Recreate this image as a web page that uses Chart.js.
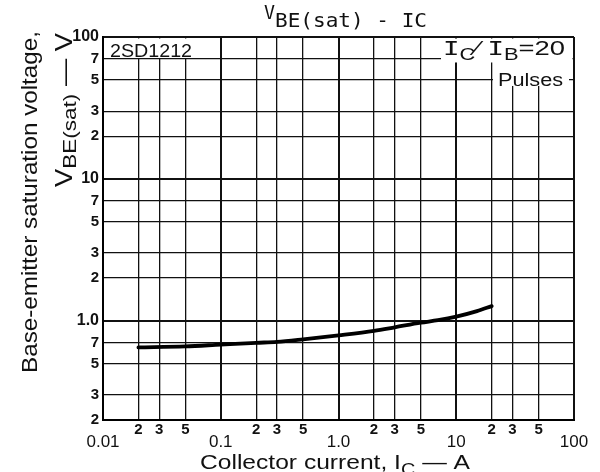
<!DOCTYPE html>
<html>
<head>
<meta charset="utf-8">
<script src="https://cdn.jsdelivr.net/npm/chart.js@4.4.1/dist/chart.umd.min.js"></script>
<style>
  html, body { margin: 0; padding: 0; background: #fff; }
  #wrap { width: 600px; height: 472px; }
</style>
</head>
<body>
<div id="wrap"><canvas id="vbeChart"></canvas></div>
<script>
// values
const collectorCurrent = [0.02, 0.05, 0.1, 0.2, 0.3, 0.5, 1, 2, 3, 5, 7, 10, 15, 20];
const vbeSat = [0.65, 0.66, 0.68, 0.70, 0.71, 0.74, 0.79, 0.85, 0.90, 0.97, 1.01, 1.07, 1.17, 1.27];

// grid / tick positions and their labels
const xTickValues = [0.01, 0.02, 0.03, 0.05, 0.1, 0.2, 0.3, 0.5, 1, 2, 3, 5, 10, 20, 30, 50, 100];
const xTickText = ['0.01', '2', '3', '5', '0.1', '2', '3', '5', '1.0', '2', '3', '5', '10', '2', '3', '5', '100'];
const yTickValues = [0.2, 0.3, 0.5, 0.7, 1, 2, 3, 5, 7, 10, 20, 30, 50, 70, 100];
const yTickText = ['2', '3', '5', '7', '1.0', '2', '3', '5', '7', '10', '2', '3', '5', '7', '100'];

const SANS = '"Liberation Sans", Arial, sans-serif';
const MONO = '"DejaVu Sans Mono", monospace';

function isDecade(v) {
    const l = Math.log10(v);
    return Math.abs(l - Math.round(l)) < 1e-6;
}

// draws a list of text pieces [{t, font, dy}] left to right, scaled to width if given
function drawParts(ctx, parts, x, y, targetWidth) {
    let w = 0;
    parts.forEach(p => { ctx.font = p.font; w += ctx.measureText(p.t).width; });
    const s = targetWidth ? targetWidth / w : 1;
    ctx.save();
    ctx.translate(x, y);
    ctx.scale(s, 1);
    let cx = 0;
    parts.forEach(p => {
        ctx.font = p.font;
        ctx.fillText(p.t, cx, p.dy || 0);
        cx += ctx.measureText(p.t).width;
    });
    ctx.restore();
}

const overlayPlugin = {
    id: 'overlay',
    beforeDatasetsDraw(chart) {
        const ctx = chart.ctx;
        const a = chart.chartArea;
        const ys = chart.scales.y;
        const y70 = ys.getPixelForValue(70);
        const y50 = ys.getPixelForValue(50);
        ctx.save();
        ctx.fillStyle = '#fff';
        // white patches behind the annotations
        ctx.fillRect(a.left + 1.5, a.top + 1.5, 90, y70 - a.top - 2.5);
        ctx.fillRect(441, a.top + 1.5, a.right - 441 - 1.5, y70 - a.top + 2);
        ctx.fillRect(493, y70 - 1, a.right - 493 - 5, 28);
        ctx.fillStyle = '#111';
        ctx.textBaseline = 'alphabetic';
        drawParts(ctx, [{ t: '2SD1212', font: '18px ' + SANS }], 110, y70 - 2, 82);
        drawParts(ctx, [
            { t: 'I', font: '20px ' + MONO },
            { t: 'C', font: '16px ' + SANS, dy: 5 },
            { t: '\u2044 ', font: '20px ' + SANS },
            { t: 'I', font: '20px ' + MONO },
            { t: 'B', font: '16px ' + SANS, dy: 5 },
            { t: '=20', font: '20px ' + SANS }
        ], 443, 55, 122);
        drawParts(ctx, [{ t: 'Pulses', font: '18px ' + SANS }], 498, y50 + 6, 65);
        ctx.restore();
    },
    afterDraw(chart) {
        const ctx = chart.ctx;
        ctx.save();
        ctx.fillStyle = '#111';
        ctx.textBaseline = 'alphabetic';
        // chart title
        drawParts(ctx, [{ t: 'V', font: '20px ' + MONO }], 264, 19, 11);
        drawParts(ctx, [{ t: 'BE(sat) - IC', font: '20px ' + MONO }], 275, 27, 152);
        // x axis title
        drawParts(ctx, [
            { t: 'Collector current, I', font: '21px ' + SANS },
            { t: 'C', font: '17px ' + SANS, dy: 6 },
            { t: ' \u2014 A', font: '21px ' + SANS }
        ], 200, 469, 270);
        // y axis title, two rotated lines
        ctx.save();
        ctx.translate(37, 373);
        ctx.rotate(-Math.PI / 2);
        drawParts(ctx, [{ t: 'Base-emitter saturation voltage,', font: '22px ' + SANS }], 0, 0, 342);
        ctx.restore();
        ctx.save();
        ctx.translate(72, 187);
        ctx.rotate(-Math.PI / 2);
        drawParts(ctx, [
            { t: 'V', font: '23px ' + SANS },
            { t: 'BE(sat)', font: '19px ' + SANS, dy: 4 },
            { t: ' \u2014 V', font: '23px ' + SANS }
        ], 0, 0, 154);
        ctx.restore();
        ctx.restore();
    }
};

const ctx = document.getElementById('vbeChart');

new Chart(ctx, {
    type: 'line',
    data: {
        datasets: [{
            label: 'VBE(sat)',
            data: collectorCurrent.map((x, i) => ({ x: x, y: vbeSat[i] })),
            borderColor: '#000',
            borderWidth: 3.8,
            pointRadius: 0,
            tension: 0.4,
            cubicInterpolationMode: 'monotone',
            borderCapStyle: 'round'
        }]
    },
    options: {
        responsive: true,
        maintainAspectRatio: false,
        animation: false,
        layout: {
            padding: { left: 0, top: 37, right: 26, bottom: 0 }
        },
        plugins: {
            legend: { display: false },
            title: { display: false },
            tooltip: { enabled: false }
        },
        scales: {
            x: {
                type: 'logarithmic',
                min: 0.01,
                max: 100,
                afterBuildTicks: function (scale) {
                    scale.ticks = xTickValues.map(v => ({ value: v }));
                },
                afterFit: function (scale) {
                    scale.height = 52;
                },
                ticks: {
                    autoSkip: false,
                    maxRotation: 0,
                    padding: 2,
                    color: '#111',
                    font: function (c) {
                        const major = c.tick && isDecade(c.tick.value);
                        return major
                            ? { family: SANS, size: 17, lineHeight: 0.8 }
                            : { family: SANS, size: 15, weight: 'bold', lineHeight: 1.0 };
                    },
                    callback: function (value) {
                        const i = xTickValues.findIndex(v => Math.abs(v - value) < v * 1e-6);
                        if (i < 0) return '';
                        return isDecade(value) ? ['', xTickText[i]] : xTickText[i];
                    }
                },
                grid: {
                    color: '#111',
                    drawTicks: false,
                    lineWidth: c => (c.tick && isDecade(c.tick.value) ? 2 : 1.3)
                },
                border: { display: true, color: '#000', width: 2 }
            },
            y: {
                type: 'logarithmic',
                min: 0.2,
                max: 100,
                afterBuildTicks: function (scale) {
                    scale.ticks = yTickValues.map(v => ({ value: v }));
                },
                afterFit: function (scale) {
                    scale.width = 103;
                },
                ticks: {
                    autoSkip: false,
                    padding: 4,
                    color: '#111',
                    font: function (c) {
                        const major = c.tick && isDecade(c.tick.value);
                        return { family: SANS, size: major ? 16 : 15, weight: 'bold' };
                    },
                    callback: function (value) {
                        const i = yTickValues.findIndex(v => Math.abs(v - value) < v * 1e-6);
                        return i < 0 ? '' : yTickText[i];
                    }
                },
                grid: {
                    color: '#111',
                    drawTicks: false,
                    lineWidth: c => (c.tick && isDecade(c.tick.value) ? 2 : 1.3)
                },
                border: { display: true, color: '#000', width: 2 }
            }
        }
    },
    plugins: [overlayPlugin]
});
</script>
</body>
</html>
